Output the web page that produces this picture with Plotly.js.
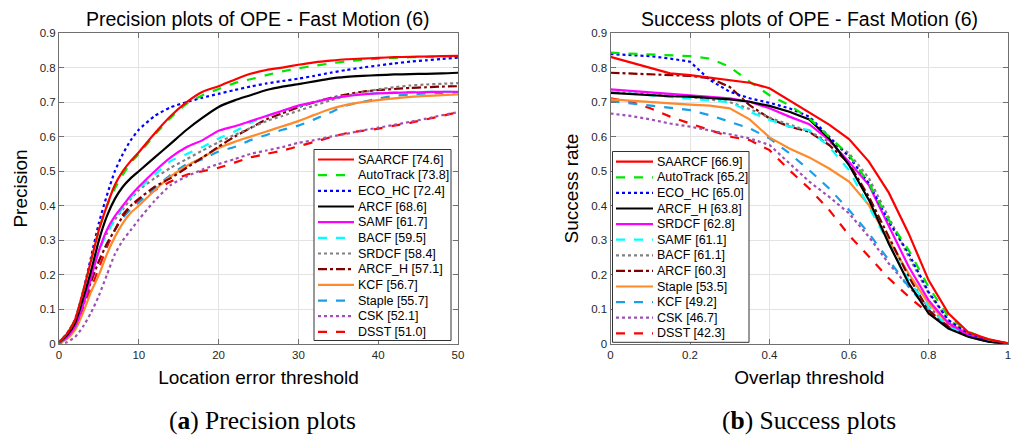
<!DOCTYPE html>
<html><head><meta charset="utf-8">
<script src="https://cdn.plot.ly/plotly-3.0.1.min.js"></script>
<style>html,body{margin:0;padding:0;background:#fff}</style>
</head><body><div id="chart" style="width:1016px;height:437px"></div>
<script>
// ---------- Precision plot data ----------
const precX = [0,1,2,3,4,5,6,7,8,9,10,12,14,16,18,20,22,24,26,28,30,32,34,36,38,40,42,44,46,48,50];
const precNames = ['SAARCF [74.6]','AutoTrack [73.8]','ECO_HC [72.4]','ARCF [68.6]','SAMF [61.7]','BACF [59.5]','SRDCF [58.4]','ARCF_H [57.1]','KCF [56.7]','Staple [55.7]','CSK [52.1]','DSST [51.0]'];
const precSAARCF   = [0.005,0.03,0.07,0.15,0.24,0.33,0.40,0.46,0.50,0.53,0.555,0.61,0.66,0.70,0.73,0.746,0.765,0.782,0.793,0.80,0.808,0.815,0.82,0.824,0.826,0.828,0.830,0.831,0.832,0.833,0.834];
const precAutoTrack= [0.005,0.03,0.07,0.15,0.24,0.33,0.40,0.45,0.49,0.525,0.55,0.605,0.655,0.695,0.72,0.738,0.755,0.766,0.778,0.789,0.798,0.805,0.812,0.818,0.822,0.826,0.828,0.830,0.831,0.832,0.834];
const precECO_HC   = [0.005,0.03,0.07,0.15,0.25,0.35,0.43,0.50,0.55,0.59,0.62,0.66,0.685,0.70,0.713,0.724,0.735,0.745,0.754,0.761,0.768,0.776,0.785,0.793,0.80,0.806,0.812,0.817,0.821,0.825,0.829];
const precARCF     = [0.005,0.025,0.06,0.13,0.21,0.30,0.37,0.42,0.455,0.48,0.50,0.54,0.58,0.62,0.655,0.686,0.705,0.72,0.735,0.745,0.752,0.76,0.768,0.773,0.776,0.778,0.78,0.781,0.782,0.783,0.785];
const precSAMF     = [0.003,0.02,0.05,0.11,0.19,0.27,0.33,0.37,0.40,0.43,0.455,0.50,0.54,0.57,0.59,0.617,0.63,0.645,0.66,0.675,0.69,0.70,0.71,0.717,0.722,0.725,0.727,0.728,0.729,0.73,0.73];
const precBACF     = [0.003,0.02,0.05,0.12,0.20,0.27,0.32,0.36,0.395,0.425,0.45,0.49,0.53,0.55,0.57,0.595,0.615,0.64,0.66,0.675,0.688,0.70,0.71,0.718,0.723,0.726,0.728,0.729,0.73,0.73,0.73];
const precSRDCF    = [0.003,0.02,0.05,0.12,0.20,0.27,0.32,0.36,0.39,0.42,0.445,0.48,0.51,0.535,0.56,0.584,0.605,0.625,0.645,0.66,0.675,0.69,0.705,0.718,0.728,0.737,0.743,0.748,0.751,0.753,0.755];
const precARCF_H   = [0.003,0.02,0.05,0.11,0.18,0.24,0.29,0.33,0.37,0.40,0.42,0.455,0.48,0.51,0.54,0.571,0.60,0.625,0.65,0.668,0.685,0.70,0.712,0.722,0.73,0.735,0.738,0.741,0.743,0.745,0.746];
const precKCF      = [0.002,0.015,0.04,0.09,0.15,0.20,0.26,0.31,0.35,0.38,0.40,0.445,0.485,0.515,0.54,0.567,0.585,0.60,0.615,0.63,0.645,0.663,0.68,0.692,0.70,0.706,0.711,0.715,0.718,0.72,0.722];
const precStaple   = [0.002,0.02,0.05,0.11,0.18,0.24,0.29,0.33,0.365,0.39,0.41,0.45,0.49,0.52,0.535,0.557,0.57,0.59,0.605,0.62,0.632,0.65,0.67,0.69,0.70,0.71,0.718,0.722,0.725,0.727,0.728];
const precCSK      = [0,0.005,0.02,0.05,0.09,0.14,0.20,0.26,0.30,0.33,0.36,0.415,0.46,0.485,0.505,0.521,0.535,0.55,0.56,0.57,0.582,0.59,0.60,0.608,0.618,0.626,0.634,0.643,0.652,0.662,0.671];
const precDSST     = [0.002,0.02,0.05,0.10,0.16,0.22,0.28,0.33,0.375,0.40,0.415,0.445,0.47,0.49,0.50,0.51,0.525,0.54,0.55,0.56,0.572,0.585,0.598,0.61,0.617,0.623,0.632,0.64,0.65,0.66,0.671];

// ---------- Success plot data ----------
const succX = [0,0.05,0.1,0.15,0.2,0.25,0.3,0.35,0.4,0.45,0.5,0.55,0.6,0.65,0.7,0.75,0.8,0.85,0.9,0.95,1];
const succNames = ['SAARCF [66.9]','AutoTrack [65.2]','ECO_HC [65.0]','ARCF_H [63.8]','SRDCF [62.8]','SAMF [61.1]','BACF [61.1]','ARCF [60.3]','Staple [53.5]','KCF [49.2]','CSK [46.7]','DSST [42.3]'];
const succSAARCF   = [0.831,0.815,0.797,0.783,0.778,0.771,0.764,0.756,0.740,0.705,0.671,0.635,0.593,0.528,0.438,0.32,0.185,0.089,0.034,0.014,0.002];
const succAutoTrack= [0.843,0.841,0.839,0.836,0.833,0.826,0.802,0.759,0.720,0.691,0.653,0.60,0.547,0.465,0.359,0.272,0.166,0.079,0.036,0.013,0.002];
const succECO_HC   = [0.839,0.836,0.833,0.826,0.817,0.764,0.730,0.711,0.698,0.682,0.658,0.60,0.542,0.465,0.354,0.262,0.151,0.069,0.031,0.012,0.002];
const succARCF_H   = [0.727,0.723,0.719,0.717,0.716,0.713,0.708,0.701,0.689,0.672,0.650,0.595,0.518,0.417,0.291,0.176,0.089,0.045,0.021,0.007,0.001];
const succSRDCF    = [0.737,0.733,0.729,0.725,0.720,0.716,0.711,0.701,0.682,0.658,0.636,0.59,0.527,0.46,0.34,0.224,0.127,0.06,0.026,0.01,0.001];
const succSAMF     = [0.730,0.725,0.720,0.716,0.712,0.706,0.700,0.672,0.648,0.629,0.619,0.571,0.503,0.397,0.291,0.185,0.108,0.05,0.026,0.01,0.001];
const succBACF     = [0.730,0.726,0.722,0.718,0.715,0.708,0.700,0.680,0.655,0.635,0.615,0.585,0.552,0.48,0.368,0.253,0.147,0.069,0.031,0.012,0.001];
const succARCF     = [0.785,0.783,0.780,0.778,0.776,0.769,0.744,0.691,0.653,0.629,0.614,0.576,0.523,0.426,0.31,0.195,0.098,0.05,0.026,0.01,0.001];
const succStaple   = [0.708,0.704,0.699,0.696,0.693,0.690,0.682,0.650,0.598,0.566,0.540,0.508,0.47,0.402,0.30,0.204,0.118,0.06,0.031,0.012,0.001];
const succKCF      = [0.703,0.696,0.689,0.682,0.677,0.662,0.643,0.624,0.595,0.552,0.503,0.45,0.388,0.32,0.243,0.166,0.098,0.05,0.021,0.007,0.001];
const succCSK      = [0.667,0.660,0.650,0.638,0.629,0.619,0.607,0.595,0.576,0.523,0.470,0.426,0.378,0.31,0.233,0.166,0.108,0.055,0.026,0.01,0.001];
const succDSST     = [0.711,0.701,0.682,0.658,0.638,0.619,0.600,0.590,0.561,0.503,0.450,0.388,0.315,0.253,0.19,0.137,0.089,0.05,0.021,0.007,0.001];

// ---------- styles by rank ----------
const rankColors = ['#ff0000','#00e600','#0000ff','#000000','#ff00ff','#00ffff','#808080','#800000','#ff8a2a','#1a9fe6','#a050b4','#ff0000'];
const rankDash   = ['solid','dash','dot','solid','solid','dash','dot','dashdot','solid','dash','dot','dash'];

const precY = [precSAARCF,precAutoTrack,precECO_HC,precARCF,precSAMF,precBACF,precSRDCF,precARCF_H,precKCF,precStaple,precCSK,precDSST];
const succY = [succSAARCF,succAutoTrack,succECO_HC,succARCF_H,succSRDCF,succSAMF,succBACF,succARCF,succStaple,succKCF,succCSK,succDSST];

const W = 1016, H = 437;
const px = v => v / W, py = v => 1 - v / H;

const traces = [];
for (let i = 11; i >= 0; i--) {
  traces.push({x: precX, y: precY[i], xaxis:'x', yaxis:'y', type:'scatter', mode:'lines', name: precNames[i],
    line:{color: rankColors[i], dash: rankDash[i], width: 2.2, shape:'spline', smoothing:0.6}, showlegend:false, hoverinfo:'skip'});
  traces.push({x: succX, y: succY[i], xaxis:'x2', yaxis:'y2', type:'scatter', mode:'lines', name: succNames[i],
    line:{color: rankColors[i], dash: rankDash[i], width: 2.2}, showlegend:false, hoverinfo:'skip'});
}

const axisLine = '#707070';
const tickFont = {family:'Liberation Sans, Arial, sans-serif', size:11.5, color:'#262626'};
const titleFont = {family:'Liberation Sans, Arial, sans-serif', size:19.5, color:'#000'};
const axTitleFont = {family:'Liberation Sans, Arial, sans-serif', size:19, color:'#000'};
function ax(extra){
  return Object.assign({showline:true, linecolor:axisLine, linewidth:1, mirror:'ticks', ticks:'inside', ticklen:5,
    tickcolor:axisLine, showgrid:true, gridcolor:'#e3e3e3', gridwidth:1, zeroline:false, tickfont:tickFont, fixedrange:true}, extra);
}

const shapes = [], annotations = [];
function legend(names, box, first, step, lx1, lx2, tx){
  shapes.push({type:'rect', xref:'paper', yref:'paper', x0:px(box[0]), x1:px(box[1]), y0:py(box[3]), y1:py(box[2]),
    fillcolor:'#ffffff', line:{color:'#333333', width:1}, layer:'above'});
  names.forEach((n,i)=>{
    const yy = first + i*step;
    shapes.push({type:'line', xref:'paper', yref:'paper', x0:px(lx1), x1:px(lx2), y0:py(yy), y1:py(yy),
      line:{color:rankColors[i], dash:rankDash[i], width:2.2}, layer:'above'});
    annotations.push({xref:'paper', yref:'paper', x:px(tx), y:py(yy), xanchor:'left', yanchor:'middle', showarrow:false,
      text:n, font:{family:'Liberation Sans, Arial, sans-serif', size:12.5, color:'#000'}});
  });
}
legend(precNames, [314,451,149.5,340.5], 159.5, 15.67, 318, 354, 356);
legend(succNames, [612.5,749,151.5,342.3], 161.7, 15.6, 616, 653, 655);

annotations.push({xref:'paper', yref:'paper', x:px(258), y:py(19), xanchor:'center', yanchor:'middle', showarrow:false,
  text:'Precision plots of OPE - Fast Motion (6)', font:titleFont});
annotations.push({xref:'paper', yref:'paper', x:px(809), y:py(19), xanchor:'center', yanchor:'middle', showarrow:false,
  text:'Success plots of OPE - Fast Motion (6)', font:titleFont});
const capFont = {family:'Liberation Serif, Times New Roman, serif', size:25.5, color:'#000'};
annotations.push({xref:'paper', yref:'paper', x:px(262), y:py(420), xanchor:'center', yanchor:'middle', showarrow:false,
  text:'(<b>a</b>) Precision plots', font:capFont});
annotations.push({xref:'paper', yref:'paper', x:px(809), y:py(420), xanchor:'center', yanchor:'middle', showarrow:false,
  text:'(<b>b</b>) Success plots', font:capFont});

const layout = {
  width: W, height: H, margin:{l:0,r:0,t:0,b:0}, paper_bgcolor:'#fff', plot_bgcolor:'#fff', showlegend:false,
  xaxis: ax({domain:[px(59), px(458)], range:[0,50], dtick:10, anchor:'y',
    title:{text:'Location error threshold', font:axTitleFont, standoff:10}}),
  yaxis: ax({domain:[py(344), py(33)], range:[0,0.9], dtick:0.1, anchor:'x',
    title:{text:'Precision', font:axTitleFont, standoff:7}}),
  xaxis2: ax({domain:[px(610.5), px(1008)], range:[0,1], dtick:0.2, anchor:'y2',
    title:{text:'Overlap threshold', font:axTitleFont, standoff:10}}),
  yaxis2: ax({domain:[py(344), py(33)], range:[0,0.9], dtick:0.1, anchor:'x2',
    title:{text:'Success rate', font:axTitleFont, standoff:7}}),
  shapes, annotations
};
Plotly.newPlot('chart', traces, layout, {displayModeBar:false, staticPlot:true});
</script></body></html>
